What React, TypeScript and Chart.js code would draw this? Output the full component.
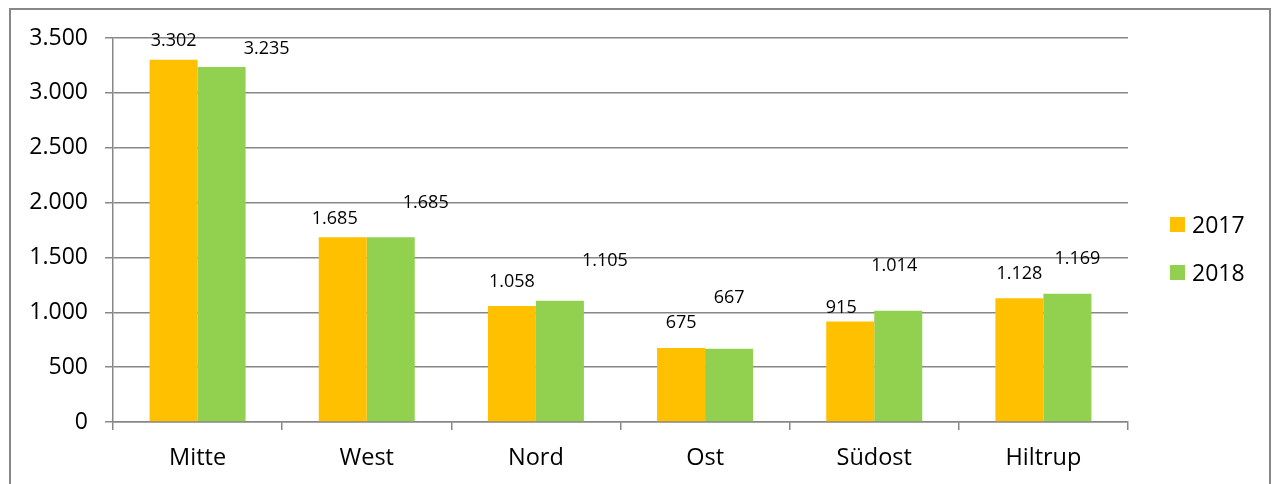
import React, { useEffect, useRef } from 'react';
import { Chart, registerables } from 'chart.js';

Chart.register(...registerables);

const categories = ['Mitte', 'West', 'Nord', 'Ost', 'Südost', 'Hiltrup'];
const seriesNames = ['2017', '2018'];
const values2017 = [3302, 1685, 1058, 675, 915, 1128];
const values2018 = [3235, 1685, 1105, 667, 1014, 1169];
const seriesColors = ['#FFC000', '#92D050'];
const yMin = 0;
const yMax = 3500;
const yStep = 500;

// label placement relative to each bar top: [dx, distance above]
const labelOffsets2017 = [[0, 19], [-8, 18], [0, 24], [0, 25], [-9, 14], [0, 24]];
const labelOffsets2018 = [[45, 18], [35, 34], [45, 40], [0, 51], [-4, 45], [10, 35]];
const labelOffsets = [labelOffsets2017, labelOffsets2018];

const FONT = "'Open Sans', sans-serif";
const GRID = '#878787';

const fmt = (v: number) => String(Math.round(v)).replace(/\B(?=(\d{3})+(?!\d))/g, '.');

const dataLabelPlugin = {
  id: 'dataLabels',
  afterDatasetsDraw(chart: any) {
    const ctx = chart.ctx;
    ctx.save();
    ctx.font = `18px ${FONT}`;
    ctx.fillStyle = '#000';
    ctx.textAlign = 'center';
    ctx.textBaseline = 'middle';
    chart.data.datasets.forEach((ds: any, i: number) => {
      const meta = chart.getDatasetMeta(i);
      meta.data.forEach((el: any, j: number) => {
        const off = labelOffsets[i][j];
        ctx.fillText(fmt(ds.data[j]), el.x + off[0], el.y - off[1]);
      });
    });
    ctx.restore();
  },
};

const legendPlugin = {
  id: 'customLegend',
  afterDraw(chart: any) {
    const ctx = chart.ctx;
    const area = chart.chartArea;
    ctx.save();
    ctx.font = `23px ${FONT}`;
    ctx.textAlign = 'left';
    ctx.textBaseline = 'middle';
    chart.data.datasets.forEach((ds: any, i: number) => {
      const cy = area.top + 186.5 + i * 48;
      const bx = area.right + 42;
      ctx.fillStyle = ds.backgroundColor;
      ctx.fillRect(bx, cy - 7.5, 15, 15);
      ctx.fillStyle = '#000';
      ctx.fillText(ds.label, bx + 22, cy + 2);
    });
    ctx.restore();
  },
};

export default function App() {
  const ref = useRef<HTMLCanvasElement | null>(null);

  useEffect(() => {
    if (!ref.current) return;
    const chart = new Chart(ref.current, {
      type: 'bar',
      data: {
        labels: categories,
        datasets: [
          { label: seriesNames[0], data: values2017, backgroundColor: seriesColors[0], borderWidth: 0 },
          { label: seriesNames[1], data: values2018, backgroundColor: seriesColors[1], borderWidth: 0 },
        ],
      },
      options: {
        animation: false,
        responsive: false,
        maintainAspectRatio: false,
        events: [],
        datasets: { bar: { categoryPercentage: 0.5675, barPercentage: 1 } },
        layout: { padding: { left: 0, right: 145, top: 38, bottom: 0 } },
        plugins: { legend: { display: false }, tooltip: { enabled: false }, title: { display: false } },
        scales: {
          x: {
            grid: { display: true, drawOnChartArea: false, drawTicks: true, tickLength: 8, color: GRID, lineWidth: 1.5, offset: true },
            border: { display: true, color: GRID, width: 1.5 },
            ticks: { font: { family: FONT, size: 23.5 }, color: '#000', padding: 14 },
            afterFit: (s: any) => { s.height = 62; },
          },
          y: {
            min: yMin,
            max: yMax,
            grid: { color: GRID, lineWidth: 1.5, tickLength: 8, drawTicks: true },
            border: { display: true, color: GRID, width: 1.5 },
            ticks: { stepSize: yStep, font: { family: FONT, size: 23 }, color: '#000', padding: 17, callback: (v: any) => fmt(Number(v)) },
            afterFit: (s: any) => { s.width = 113; },
          },
        },
      },
      plugins: [dataLabelPlugin, legendPlugin],
    });
    return () => chart.destroy();
  }, []);

  return (
    <div style={{ position: 'fixed', left: 0, top: 0, width: 1273, height: 484, background: '#fff' }}>
      <div style={{ position: 'absolute', left: 9, top: 8, width: 1262, height: 500, border: `2px solid ${GRID}`, boxSizing: 'border-box' }} />
      <canvas ref={ref} width={1273} height={484} style={{ position: 'absolute', left: 0, top: 0, width: 1273, height: 484 }} />
    </div>
  );
}
